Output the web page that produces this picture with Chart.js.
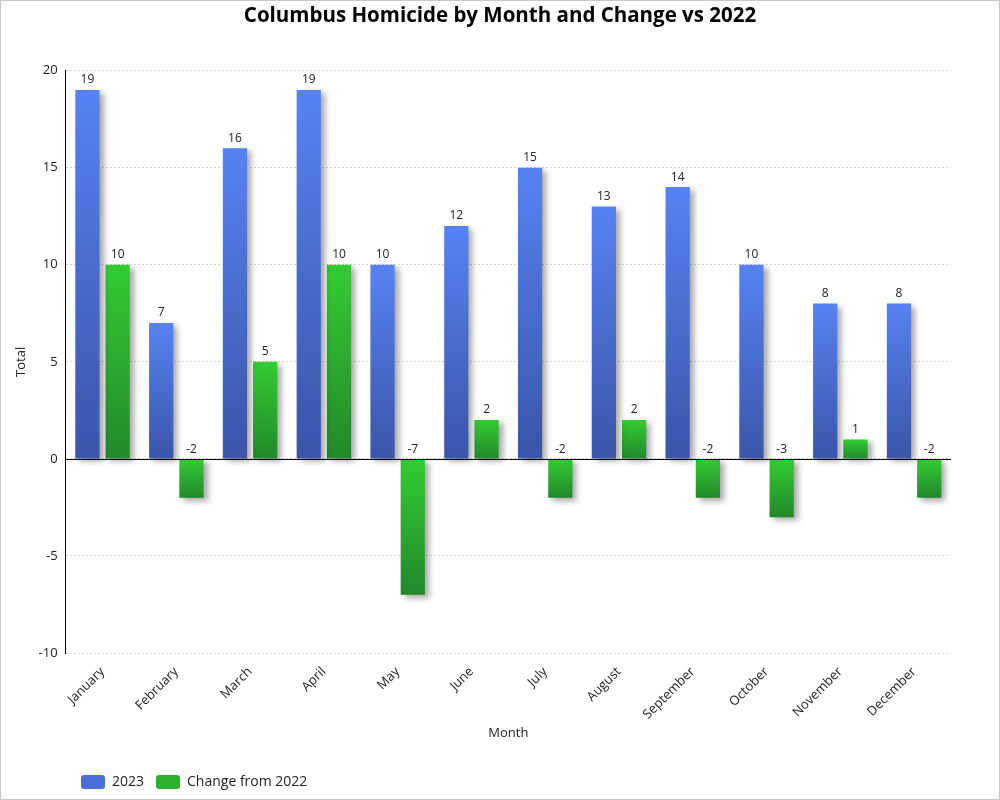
<!DOCTYPE html>
<html>
<head>
<meta charset="utf-8">
<script src="https://cdn.jsdelivr.net/npm/chart.js@4.4.0/dist/chart.umd.min.js"></script>
<style>
    html, body { margin: 0; padding: 0; background: #fff; }
    #wrap { width: 998px; height: 798px; border: 1px solid #c8c8c8; position: relative; }
</style>
</head>
<body>
<div id="wrap"><canvas id="chart"></canvas></div>
<script>
const months = ["January", "February", "March", "April", "May", "June",
    "July", "August", "September", "October", "November", "December"];
const total2023 = [19, 7, 16, 19, 10, 12, 15, 13, 14, 10, 8, 8];
const change2022 = [10, -2, 5, 10, -7, 2, -2, 2, -2, -3, 1, -2];
const yTicks = [-10, -5, 0, 5, 10, 15, 20];

const FONT = "'Open Sans', 'Noto Sans', sans-serif";
const legendFill = ["#4a6fd8", "#2bb02f"];

// vertical gradient over each bar, top light -> bottom dark
function barGradient(top, bottom, mid) {
    return function (ctx) {
        const chart = ctx.chart;
        if (ctx.type !== "data" || !chart.chartArea || !chart.scales.y) return mid;
        const y = chart.scales.y;
        const v = ctx.parsed.y;
        const y1 = y.getPixelForValue(Math.max(v, 0));
        const y2 = y.getPixelForValue(Math.min(v, 0));
        if (y2 - y1 < 1) return top;
        const g = chart.ctx.createLinearGradient(0, y1, 0, y2);
        g.addColorStop(0, top);
        g.addColorStop(1, bottom);
        return g;
    };
}

const barExtras = {
    id: "barExtras",
    afterLayout(chart) {
        // legend starts further in, title is centred on the whole canvas
        chart.legend.left += 58;
        chart.legend.right += 58;
        chart.titleBlock.left -= 10;
        chart.titleBlock.right += 48;
    },
    beforeDatasetsDraw(chart) {
        const c = chart.ctx;
        c.save();
        c.shadowColor = "rgba(0,0,0,0.35)";
        c.shadowBlur = 6;
        c.shadowOffsetX = 4;
        c.shadowOffsetY = 3;
    },
    afterDatasetsDraw(chart) {
        const c = chart.ctx;
        c.restore();
        const area = chart.chartArea;
        const y0 = Math.round(chart.scales.y.getPixelForValue(0)) + 0.5;
        c.save();
        c.strokeStyle = "#000";
        c.lineWidth = 1;
        c.beginPath();
        c.moveTo(area.left, y0);
        c.lineTo(area.right, y0);
        c.stroke();

        c.fillStyle = "#222";
        c.font = "12px " + FONT;
        c.textAlign = "center";
        c.textBaseline = "bottom";
        chart.data.datasets.forEach(function (ds, i) {
            const meta = chart.getDatasetMeta(i);
            meta.data.forEach(function (bar, j) {
                const v = ds.data[j];
                const y = v >= 0 ? bar.y : bar.base;
                c.fillText(String(v), bar.x, y - 4);
            });
        });
        c.restore();
    }
};

Chart.defaults.font.family = FONT;
Chart.defaults.color = "#222";

new Chart(document.getElementById("chart"), {
    type: "bar",
    data: {
        labels: months,
        datasets: [{
            label: "2023",
            data: total2023,
            backgroundColor: barGradient("#5682f2", "#3a55a9", legendFill[0]),
            barPercentage: 0.8,
            categoryPercentage: 0.82
        }, {
            label: "Change from 2022",
            data: change2022,
            backgroundColor: barGradient("#33cc33", "#22882a", legendFill[1]),
            barPercentage: 0.8,
            categoryPercentage: 0.82
        }]
    },
    options: {
        responsive: true,
        maintainAspectRatio: false,
        animation: false,
        layout: { padding: { left: 10, right: 48, top: 0, bottom: 0 } },
        plugins: {
            title: {
                display: true,
                text: "Columbus Homicide by Month and Change vs 2022",
                font: { size: 20.5, weight: "bold" },
                color: "#000",
                padding: { top: 3, bottom: 42 }
            },
            legend: {
                position: "bottom",
                align: "start",
                labels: {
                    boxWidth: 24,
                    boxHeight: 14,
                    useBorderRadius: true,
                    borderRadius: 3,
                    padding: 12,
                    font: { size: 14 },
                    color: "#222",
                    generateLabels(chart) {
                        return chart.data.datasets.map(function (ds, i) {
                            return {
                                text: ds.label,
                                fillStyle: legendFill[i],
                                strokeStyle: legendFill[i],
                                lineWidth: 0,
                                fontColor: "#222",
                                hidden: !chart.isDatasetVisible(i),
                                datasetIndex: i,
                                borderRadius: 3
                            };
                        });
                    }
                }
            },
            tooltip: { enabled: false }
        },
        scales: {
            x: {
                grid: { display: false },
                border: { display: false },
                ticks: { maxRotation: 45, minRotation: 45, font: { size: 13 }, color: "#222" },
                title: { display: true, text: "Month", font: { size: 13 }, color: "#222", padding: { top: 0, bottom: 22 } }
            },
            y: {
                min: -10,
                max: 20,
                afterBuildTicks(scale) {
                    scale.ticks = yTicks.map(function (v) { return { value: v }; });
                },
                grid: { color: "#d4d4d4", drawTicks: false },
                border: { display: true, color: "#000", width: 1, dash: [2, 2] },
                ticks: { padding: 8, font: { size: 13 }, color: "#222" },
                title: { display: true, text: "Total", font: { size: 13 }, color: "#222", padding: 2 }
            }
        }
    },
    plugins: [barExtras]
});
</script>
</body>
</html>
